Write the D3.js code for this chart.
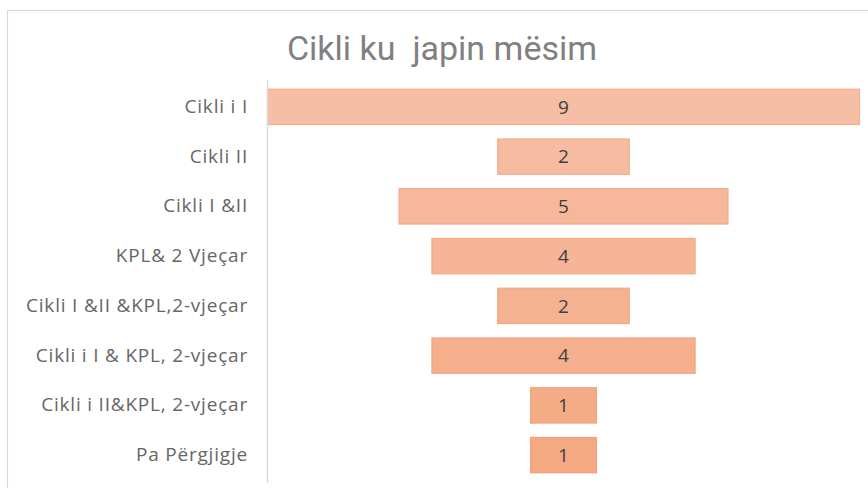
<!DOCTYPE html>
<html>
<head>
<meta charset="utf-8">
<script src="https://cdn.jsdelivr.net/npm/d3@7"></script>
<style>
  html, body { margin: 0; padding: 0; background: #fff; }
  svg { display: block; }
</style>
</head>
<body>
<svg id="chart" width="868" height="488"></svg>
<script>
const title = "Cikli ku  japin mësim";
const categories = [
  "Cikli i I",
  "Cikli II",
  "Cikli I &II",
  "KPL& 2 Vjeçar",
  "Cikli I &II &KPL,2-vjeçar",
  "Cikli i I & KPL, 2-vjeçar",
  "Cikli i II&KPL, 2-vjeçar",
  "Pa Përgjigje"
];
const values = [9, 2, 5, 4, 2, 4, 1, 1];

const svg = d3.select("#chart");
svg.append("rect").attr("width", 868).attr("height", 488).attr("fill", "#fff");
svg.append("rect")
  .attr("x", 7.5).attr("y", 10.5).attr("width", 880).attr("height", 500)
  .attr("fill", "#fff").attr("stroke", "#d9d9d9").attr("stroke-width", 1.2);

svg.append("text")
  .attr("x", 442).attr("y", 60)
  .attr("text-anchor", "middle")
  .attr("font-family", "Roboto, 'Noto Sans', sans-serif")
  .attr("font-size", 34)
  .attr("fill", "#808080")
  .attr("xml:space", "preserve")
  .style("white-space", "pre")
  .text(title);

const maxV = d3.max(values);
const x = d3.scaleLinear().domain([-maxV / 2, maxV / 2]).range([267.5, 859.5]);
const y = d3.scaleBand().domain(categories).range([80, 482])
  .paddingInner(0.29).paddingOuter(0.185);
const color = d3.scaleLinear().domain([0, categories.length - 1])
  .range(["#F6BEA5", "#F4A982"]);
const stroke = d3.scaleLinear().domain([0, categories.length - 1])
  .range(["#F3B08F", "#F29F78"]);

const g = svg.append("g");
g.selectAll("rect.bar").data(categories).join("rect")
  .attr("class", "bar")
  .attr("x", (d, i) => x(-values[i] / 2))
  .attr("width", (d, i) => x(values[i] / 2) - x(-values[i] / 2))
  .attr("y", d => y(d))
  .attr("height", y.bandwidth())
  .attr("fill", (d, i) => color(i))
  .attr("stroke", (d, i) => stroke(i))
  .attr("stroke-width", 1.2);

g.selectAll("text.val").data(categories).join("text")
  .attr("class", "val")
  .attr("x", x(0))
  .attr("y", d => y(d) + y.bandwidth() / 2)
  .attr("dy", "0.36em")
  .attr("text-anchor", "middle")
  .attr("font-family", "'Open Sans', 'Noto Sans', sans-serif")
  .attr("font-size", 19)
  .attr("fill", "#404040")
  .text((d, i) => values[i]);

const axis = d3.axisLeft(y).tickSize(0).tickPadding(19);
const ag = svg.append("g").attr("transform", "translate(267,0)").call(axis);
ag.select(".domain").attr("stroke", "#d9d9d9").attr("stroke-width", 1.5);
ag.selectAll("text")
  .attr("font-family", "'Open Sans', 'Noto Sans', sans-serif")
  .attr("font-size", 19)
  .attr("letter-spacing", "0.8px")
  .attr("fill", "#666666");
</script>
</body>
</html>
